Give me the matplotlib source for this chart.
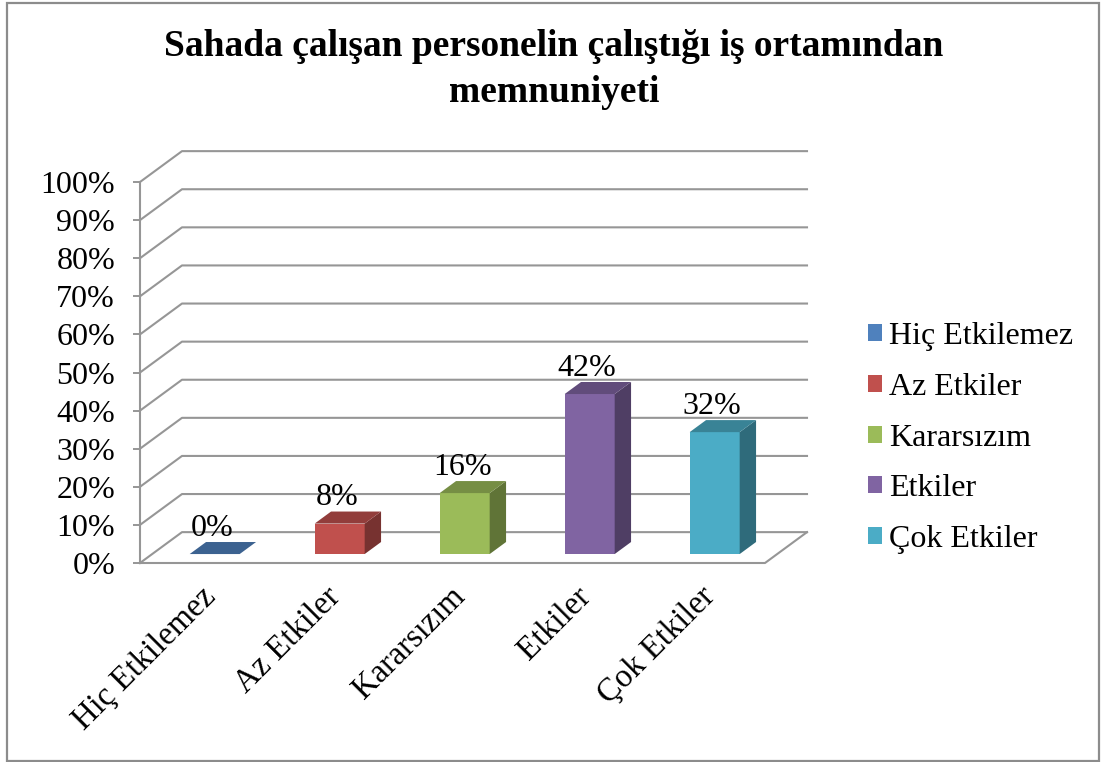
import numpy as np
import matplotlib
matplotlib.use("Agg")
import matplotlib.pyplot as plt
from matplotlib.patches import Polygon, Patch, Rectangle

plt.rcParams["font.family"] = ["Liberation Serif", "DejaVu Serif"]

# data
categories = ["Hiç Etkilemez", "Az Etkiler", "Kararsızım", "Etkiler", "Çok Etkiler"]
values = [0, 8, 16, 42, 32]
colors = ["#4F81BD", "#C0504D", "#9BBB59", "#8064A2", "#4BACC6"]
yticks = list(range(0, 101, 10))
title = "Sahada çalışan personelin çalıştığı iş ortamından\nmemnuniyeti"

# oblique 3D look (Excel style): depth offset in data units
DX, DY = 0.336, 8.1
F0, F1 = 0.29, 0.68      # bar front / back depth fraction
BW = 0.4                 # bar width (category units)
GRID = "#969696"

W, H = 1101, 762
fig = plt.figure(figsize=(W / 100, H / 100), dpi=100)
ax = fig.add_axes([140 / W, (H - 563) / H, 625 / W, 381 / H])
ax.set_xlim(0, len(categories))
ax.set_ylim(0, 100)
for s in ["top", "right", "bottom"]:
    ax.spines[s].set_visible(False)
ax.spines["left"].set_color(GRID)
ax.spines["left"].set_linewidth(1.5)
ax.set_xticks([])
ax.set_yticks(yticks)
ax.set_yticklabels([f"{t}%" for t in yticks], fontsize=23)
ax.tick_params(axis="y", length=5, width=1.4, color=GRID, pad=13)
ax.patch.set_alpha(0)


def proj(x, y, f):
    return (x + f * DX, y + f * DY)


n = len(categories)
# side wall diagonals + back wall gridlines
for t in yticks:
    xs = [0, DX, n + DX]
    ys = [t, t + DY, t + DY]
    ax.plot(xs, ys, color=GRID, lw=1.5, clip_on=False, zorder=1)
# floor front and right edges
ax.plot([0, n, n + DX], [0, 0, DY], color=GRID, lw=1.5, clip_on=False, zorder=1)


def shade(c, k):
    rgb = np.array(matplotlib.colors.to_rgb(c))
    return tuple(rgb * k)


for i, (v, c) in enumerate(zip(values, colors)):
    x0 = i + 0.5 - BW / 2
    x1 = x0 + BW
    front = [proj(x0, 0, F0), proj(x1, 0, F0), proj(x1, v, F0), proj(x0, v, F0)]
    side = [proj(x1, 0, F0), proj(x1, 0, F1), proj(x1, v, F1), proj(x1, v, F0)]
    top = [proj(x0, v, F0), proj(x1, v, F0), proj(x1, v, F1), proj(x0, v, F1)]
    if v > 0:
        ax.add_patch(Polygon(front, closed=True, fc=c, ec="none", zorder=3, clip_on=False))
        ax.add_patch(Polygon(side, closed=True, fc=shade(c, 0.62), ec="none", zorder=3, clip_on=False))
    ax.add_patch(Polygon(top, closed=True, fc=shade(c, 0.76), ec="none", zorder=3, clip_on=False))
    ax.text(i + 0.5 + F0 * DX - 0.02, v + F1 * DY + 3.6, f"{v}%",
            ha="center", va="center", fontsize=23, zorder=4)

# rotated category labels under the floor
for i, cat in enumerate(categories):
    ax.annotate(cat, xy=(i + 0.5, 0), xytext=(6, -21), textcoords="offset points",
                rotation=45, ha="right", va="center", rotation_mode="anchor",
                fontsize=23.5, annotation_clip=False)

handles = [Patch(fc=c, ec="none") for c in colors]
fig.legend(handles, categories, loc="center left",
           bbox_to_anchor=(868 / W, 1 - 438 / H), frameon=False, fontsize=23,
           handlelength=0.44, handleheight=0.44, handletextpad=0.22,
           labelspacing=0.68, borderpad=0, borderaxespad=0)

fig.text(554 / W, 1 - 29 / H, title, ha="center", va="top", fontsize=27,
         fontweight="bold", linespacing=1.42)

fig.patches.append(Rectangle((7 / W, 1 / H), 1092 / W, 758 / H, transform=fig.transFigure,
                             fill=False, ec="#8c8c8c", lw=1.6))

fig.savefig("out.png", dpi=100)
